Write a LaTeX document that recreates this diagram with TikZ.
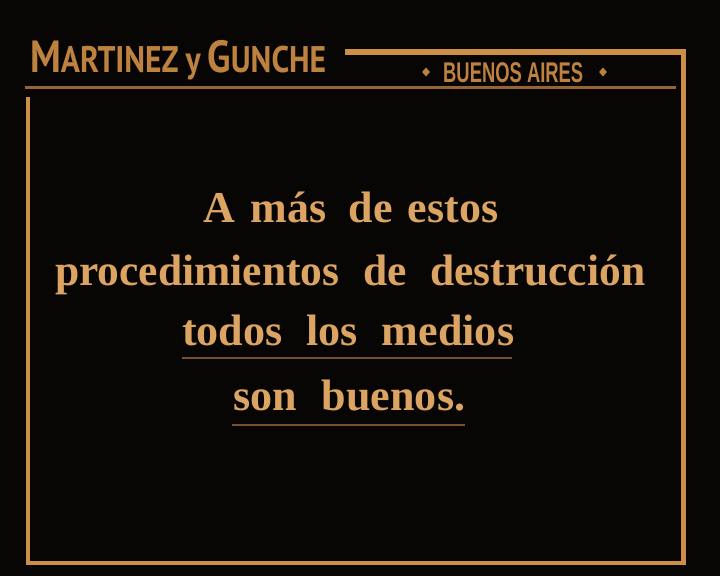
\documentclass[tikz,border=0pt]{standalone}
\usepackage{fontspec}
\setmainfont{Liberation Serif}
\newfontfamily\hdrfont{PT Sans}
\newfontfamily\cityfont{Liberation Sans}
\usetikzlibrary{shapes.geometric}
\definecolor{bgc}{RGB}{8,6,5}
\definecolor{textc}{RGB}{220,164,98}
\definecolor{hdrc}{RGB}{190,130,64}
\definecolor{framec}{RGB}{205,142,72}
\definecolor{rulec}{RGB}{150,100,50}
\definecolor{ulc}{RGB}{118,80,44}
\begin{document}
\begin{tikzpicture}[x=1pt,y=-1pt,
  maintext/.style={anchor=base west, inner sep=0pt, text=textc, font=\fontsize{44}{50}\selectfont\bfseries},
  hdrtext/.style={anchor=base west, inner sep=0pt, text=hdrc},
  frameline/.style={draw=framec, line width=4.5pt, line join=miter},
  topline/.style={draw=framec, line width=6pt},
  hrule/.style={draw=rulec, line width=3pt},
  uline/.style={draw=ulc, line width=2.5pt},
  orn/.style={diamond, fill=hdrc, minimum width=8pt, minimum height=9pt, inner sep=0pt}]
\fill[bgc] (0,0) rectangle (720,576);
\useasboundingbox (0,0) rectangle (720,576);
% frame
\coordinate (tl) at (345,52);
\coordinate (tr) at (683.5,52);
\coordinate (tre) at (685.75,52);
\coordinate (br) at (683.5,563);
\coordinate (bl) at (28,563);
\coordinate (lt) at (28,97);
\draw[frameline] (lt) -- (bl) -- (br) -- (tr);
\draw[topline] (tl) -- (tre);
\coordinate (hra) at (25,87);
\coordinate (hrb) at (676,87);
\draw[hrule] (hra) -- (hrb);
% header
\node[hdrtext] (firm) at (30,72) {\resizebox{296pt}{\height}{\hdrfont\bfseries{\fontsize{45}{45}\selectfont M}{\fontsize{37}{37}\selectfont ARTINEZ\hspace{8pt}y\hspace{8pt}}{\fontsize{45}{45}\selectfont G}{\fontsize{37}{37}\selectfont UNCHE}}};
\node[hdrtext] (city) at (443,82) {\resizebox{140pt}{\height}{\cityfont\bfseries\fontsize{28.5}{28.5}\selectfont BUENOS\hspace{8pt}AIRES}};
\node[orn] (o1) at (426,72) {};
\node[orn] (o2) at (603,72) {};
% main text
\node[maintext] (l1) at (203,222) {\resizebox{295pt}{\height}{A\hspace{16pt}más\hspace{22pt}de\hspace{15pt}estos}};
\node[maintext] (l2) at (55,285) {\resizebox{590pt}{\height}{procedimientos\hspace{24pt}de\hspace{24pt}destrucción}};
\node[maintext] (l3) at (182,345) {\resizebox{332pt}{\height}{todos\hspace{24pt}los\hspace{24pt}medios}};
\node[maintext] (l4) at (233,410) {\resizebox{232pt}{\height}{son\hspace{25pt}buenos.}};
\coordinate (u1a) at (182,358);
\coordinate (u1b) at (512,358);
\coordinate (u2a) at (232,425);
\coordinate (u2b) at (465,425);
\draw[uline] (u1a) -- (u1b);
\draw[uline] (u2a) -- (u2b);
\end{tikzpicture}
\end{document}
